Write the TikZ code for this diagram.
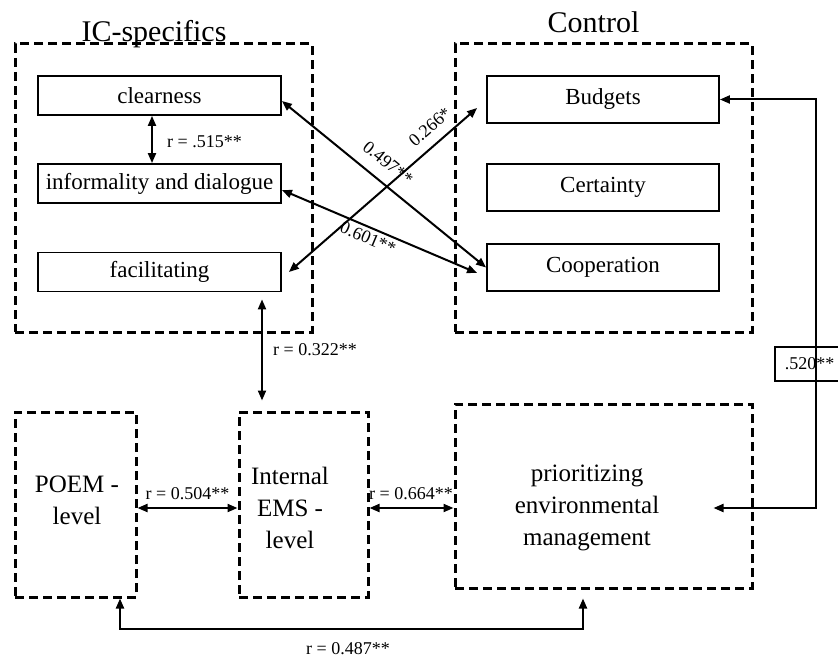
\documentclass[tikz,border=0pt]{standalone}
\usepackage{fontspec}
\setmainfont{Liberation Serif}
\usetikzlibrary{arrows.meta}

\begin{document}
\begin{tikzpicture}[x=1pt, y=-1pt, >={Triangle[length=10pt,width=8pt]},
	grp/.style={draw, line width=3pt, dash pattern=on 9pt off 5pt, inner sep=0pt},
	lbox/.style={draw, line width=1.8pt, inner sep=0pt, minimum width=243pt, minimum height=39pt, font=\fontsize{23}{27}\selectfont},
	rbox/.style={draw, line width=1.8pt, inner sep=0pt, minimum width=232pt, minimum height=47pt, font=\fontsize{23}{27}\selectfont},
	txt/.style={align=center, inner sep=0pt, font=\fontsize{25}{32}\selectfont},
	ttl/.style={anchor=base, inner sep=0pt, font=\fontsize{30}{34}\selectfont},
	lbl/.style={inner sep=0pt, font=\fontsize{18}{21}\selectfont},
	con/.style={<->, line width=2pt}]
		\useasboundingbox (0,0) rectangle (838,658);
		
		\node[grp, minimum width=297pt, minimum height=288pt] (ic) at (163.5,188) {};
		\node[grp, minimum width=297pt, minimum height=288pt] (ctrl) at (603.5,188) {};
		\node[ttl] (icttl) at (154,42) {IC-specifics};
		\node[ttl] (ctrlttl) at (593.5,33) {Control};
		
		\node[lbox] (clear) at (159.5,95.5) {clearness};
		\node[lbox] (inform) at (159.5,183.5) {informality and dialogue};
		\node[lbox] (facil) at (159.5,272) {facilitating};
		
		\node[rbox] (budg) at (603,99.5) {Budgets};
		\node[rbox] (cert) at (603,187.5) {Certainty};
		\node[rbox] (coop) at (603,267.5) {Cooperation};
		
		\node[grp, minimum width=121pt, minimum height=185pt] (poem) at (75.5,504.5) {};
		\node[grp, minimum width=129pt, minimum height=185pt] (ems) at (303.5,504.5) {};
		\node[grp, minimum width=297pt, minimum height=184pt] (prio) at (603.5,496) {};
		\node[txt] (poemtxt) at (77,500) {POEM -\\level};
		\node[txt] (emstxt) at (290,508) {Internal\\EMS -\\level};
		\node[txt] (priotxt) at (587,508) {prioritizing\\environmental\\management};
		
		\draw[con] ([xshift=-7.5pt]clear.south) -- ([xshift=-7.5pt]inform.north);
		\draw[con] ([yshift=-5.5pt]clear.east) -- (coop.west);
		\draw[con] ([yshift=-6.5pt]inform.east) -- ([shift={(-9pt,-5.5pt)}]coop.west);
		\draw[con] ([xshift=7pt]facil.east) -- ([shift={(-9pt,-8.5pt)}]budg.west);
		\draw[con] ([shift={(102.5pt,-7pt)}]facil.south) -- ([shift={(-41.5pt,10pt)}]ems.north);
		\draw[con] ([yshift=-3.5pt]poem.east) -- ([yshift=-3.5pt]ems.west);
		\draw[con] ([yshift=-3.5pt]ems.east) -- ([yshift=-3.5pt]ems.east -| prio.west);
		\draw[con] ([xshift=44.5pt]poem.south) -- ++(0,30) -| ([shift={(-20.5pt,-9pt)}]prio.south);
		\draw[con] (budg.east) -- ++(96,0) |- ([shift={(-40pt,-12pt)}]prio.east);
		
		\node[lbl, anchor=west] (r515) at (167,142) {r = .515**};
		\node[lbl, rotate=-39] (l497) at (388,163) {0.497**};
		\node[lbl, rotate=41] (l266) at (430,127) {0.266*};
		\node[lbl, rotate=-23] (l601) at (368,238) {0.601**};
		\node[lbl, anchor=west] (r322) at (273,350) {r = 0.322**};
		\node[lbl] (r504) at (187.5,494) {r = 0.504**};
		\node[lbl] (r664) at (411,494) {r = 0.664**};
		\node[lbl] (r487) at (348,649) {r = 0.487**};
		\node[lbl, draw, line width=1.8pt, anchor=west, inner xsep=10pt, minimum height=34pt] (r520) at (774,364) {.520**};
		
	\end{tikzpicture}
\end{document}
